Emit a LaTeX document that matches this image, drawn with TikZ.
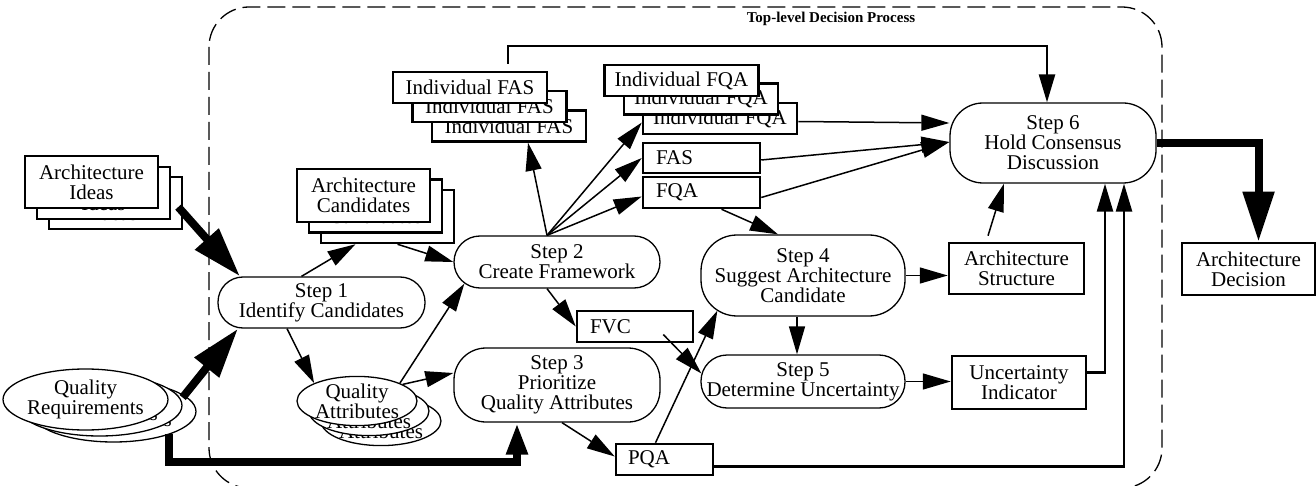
\documentclass[tikz,border=0pt]{standalone}
\usepackage{fontspec}
\setmainfont{Liberation Serif}
\usetikzlibrary{arrows.meta,shapes.geometric,calc}

\begin{document}
\begin{tikzpicture}[x=1pt,y=1pt,yscale=-1,xscale=1,
  every node/.style={font=\fontsize{21}{20}\selectfont},
  tbox/.style={draw, line width=2.5pt, fill=white, align=center, inner sep=0pt},
  stepnode/.style={draw, line width=1.3pt, fill=white, align=center, inner sep=0pt, minimum width=206pt},
  oval/.style={ellipse, draw, line width=1.3pt, fill=white, align=center, inner sep=0pt},
  arr/.style={line width=1.5pt, -{Triangle[length=28pt,width=16pt]}},
  bigarr/.style={line width=8pt, -{Triangle[length=50pt,width=30pt]}}]

\useasboundingbox (0,0) rectangle (1316,486);

% frame of the decision process
\draw[line width=1.3pt, dash pattern=on 18pt off 7pt, rounded corners=40pt] (209,7) rectangle (1162,488);
\node[font=\fontsize{15}{15}\selectfont\bfseries] (title) at (831,19) {Top-level Decision Process};

% inputs
\node[tbox, minimum width=133pt, minimum height=52pt] (ideasC) at (115.5,203) {Architecture\\Ideas};
\node[tbox, minimum width=133pt, minimum height=52pt] (ideasB) at (103.5,193) {Architecture\\Ideas};
\node[tbox, minimum width=133pt, minimum height=52pt] (ideasA) at (91.5,182) {Architecture\\Ideas};

\node[oval, minimum width=155pt, minimum height=61pt] (reqC) at (113.5,411.5) {Quality\\Requirements};
\node[oval, minimum width=155pt, minimum height=61pt] (reqB) at (99.5,405.5) {Quality\\Requirements};
\node[oval, minimum width=155pt, minimum height=61pt] (reqA) at (85.5,399.5) {Quality\\Requirements};

% steps
\node[stepnode, minimum width=207pt, minimum height=51pt, rounded corners=25pt] (step1) at (321.5,302.5) {Step 1\\Identify Candidates};
\node[stepnode, minimum height=52pt, rounded corners=26pt] (step2) at (557,262) {Step 2\\Create Framework};
\node[stepnode, minimum height=74pt, rounded corners=32pt] (step3) at (557,385) {Step 3\\Prioritize\\Quality Attributes};
\node[stepnode, minimum width=204pt, minimum height=81pt, rounded corners=36pt] (step4) at (803,275.5) {Step 4\\Suggest Architecture\\Candidate};
\node[stepnode, minimum width=204pt, minimum height=53pt, rounded corners=26pt] (step5) at (803,381.5) {Step 5\\Determine Uncertainty};
\node[stepnode, minimum height=80pt, rounded corners=33pt] (step6) at (1053,143) {Step 6\\Hold Consensus\\Discussion};

% intermediate results
\node[tbox, minimum width=133pt, minimum height=53pt] (candC) at (387.5,216.5) {Architecture\\Candidates};
\node[tbox, minimum width=133pt, minimum height=53pt] (candB) at (375.5,206) {Architecture\\Candidates};
\node[tbox, minimum width=133pt, minimum height=53pt] (candA) at (363.5,195.5) {Architecture\\Candidates};

\node[oval, minimum width=120pt, minimum height=48pt] (qaC) at (381,421) {Quality\\Attributes};
\node[oval, minimum width=120pt, minimum height=48pt] (qaB) at (369,411) {Quality\\Attributes};
\node[oval, minimum width=120pt, minimum height=48pt] (qaA) at (357,401) {Quality\\Attributes};

\node[tbox, minimum width=154pt, minimum height=31pt] (fasC) at (509,126) {Individual FAS};
\node[tbox, minimum width=154pt, minimum height=31pt] (fasB) at (489.5,106.5) {Individual FAS};
\node[tbox, minimum width=154pt, minimum height=31pt] (fasA) at (470,87.5) {Individual FAS};

\node[tbox, minimum width=154pt, minimum height=31pt] (fqaC) at (720,118.5) {Individual FQA};
\node[tbox, minimum width=154pt, minimum height=31pt] (fqaB) at (701,99) {Individual FQA};
\node[tbox, minimum width=154pt, minimum height=31pt] (fqaA) at (681.5,80.5) {Individual FQA};

\node[tbox, align=left, text width=91pt, inner xsep=13pt, minimum height=30pt] (fas) at (701.5,158) {FAS};
\node[tbox, align=left, text width=91pt, inner xsep=13pt, minimum height=31pt] (fqa) at (701.5,192.5) {FQA};
\node[tbox, align=left, text width=90pt, inner xsep=13pt, minimum height=31pt] (fvc) at (635,326.5) {FVC};
\node[tbox, align=left, text width=73pt, inner xsep=12pt, minimum height=31pt] (pqa) at (664.5,459.5) {PQA};

% outputs
\node[tbox, minimum width=135pt, minimum height=51pt] (archS) at (1016.5,268.5) {Architecture\\Structure};
\node[tbox, minimum width=134pt, minimum height=53pt] (unc) at (1019,382.5) {Uncertainty\\Indicator};
\node[tbox, minimum width=133pt, minimum height=52pt] (decision) at (1248.5,269) {Architecture\\Decision};

% flows
\draw[bigarr] ($(ideasC.east)+(-5,4)$) -- ($(step1.north)+(-81.5,0)$);
\draw[bigarr] ($(reqB.east)+(0,-8)$) -- ($(step1.south)+(-83.5,0)$);
\coordinate (reqbend) at (517,462);
\draw[line width=8pt, -{Triangle[length=32pt,width=20pt]}] ($(reqC.south east)+(-3,0)$) |- (reqbend) -- ($(step3.south)+(-40,0)$);

\draw[arr] ($(step1.north)+(-20,0)$) -- ($(candC.south)+(-32,0)$);
\draw[arr] ($(candC.south)+(10,0)$) -- (step2.west);
\draw[arr] ($(step1.south)+(-34.5,0)$) -- (qaA.north west);
\draw[arr] (qaA.north east) -- ($(step2.south west)+(11,-5)$);
\draw[arr] (qaA.20) -- ($(step3.west)+(0,-12)$);

\coordinate (s2top) at ($(step2.north)+(-10,0)$);
\draw[arr] (s2top) -- ($(fasC.south)+(19,0)$);
\draw[arr] (s2top) -- ($(fqaC.west)+(0,4)$);
\draw[arr] (s2top) -- (fas.west);
\draw[arr] (s2top) -- ($(fqa.west)+(0,4)$);
\draw[arr] ($(step2.south)+(-10,0)$) -- (fvc.west);

\draw[arr] ($(step3.south)+(5,0)$) -- ($(pqa.west)+(0,-3)$);
\draw[arr] ($(pqa.north)+(-9,0)$) -- ($(step4.south west)+(17,-6)$);
\draw[arr] ($(fvc.east)+(-31,8)$) -- ($(step5.west)+(1,-8)$);
\draw[arr] ($(fqa.south)+(20,0)$) -- ($(step4.north)+(-25,0)$);

\draw[arr] ($(fqaC.east)+(0,3)$) -- ($(step6.west)+(0,-20)$);
\draw[arr] ($(fas.east)+(0,2)$) -- ($(step6.west)+(0,-1)$);
\draw[arr] ($(fqa.east)+(0,5)$) -- ($(step6.west)+(0,-1)$);
\coordinate (fbtop) at (1047,46);
\draw[arr, line width=2.5pt] ($(fasA.north)+(38,-7)$) |- (fbtop) -- ($(step6.north)+(-6,0)$);

\draw[arr] (step4.east) -- (step4.east -| archS.west);
\draw[arr] ($(step4.south)+(-6,0)$) -- ($(step5.north)+(-6,0)$);
\draw[arr] (step5.east) -- (step5.east -| unc.west);
\draw[arr] ($(archS.north)+(-28.5,-6)$) -- ($(step6.south)+(-49,0)$);
\draw[arr, line width=2.5pt] ($(unc.east)+(0,-10)$) -| ($(step6.south)+(52,0)$);
\draw[arr, line width=2.5pt] ($(pqa.east)+(0,7)$) -| ($(step6.south)+(71,0)$);

\draw[bigarr] (step6.east) -| ($(decision.north)+(10,0)$);

\end{tikzpicture}
\end{document}
